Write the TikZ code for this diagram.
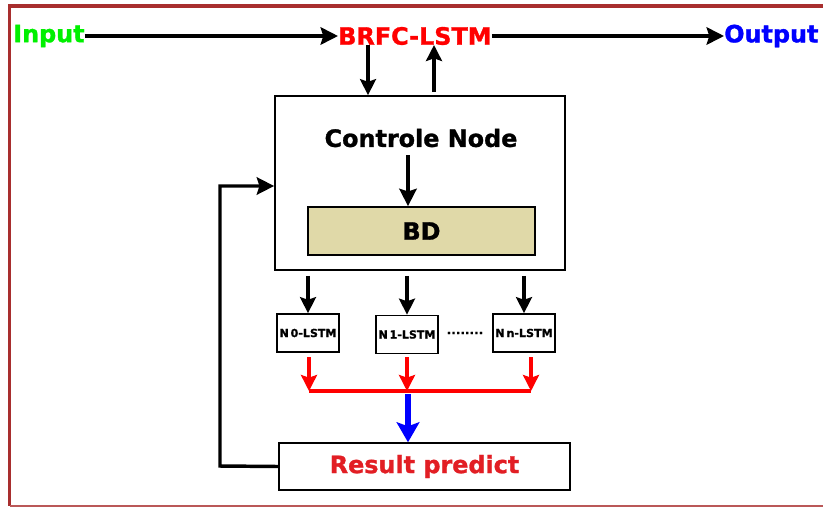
\documentclass[tikz,border=0pt]{standalone}
\usepackage{fontspec}
\setmainfont{DejaVu Sans}[BoldFeatures={FakeBold=1.2}]
\usetikzlibrary{arrows.meta}
\definecolor{frame}{rgb}{0.66,0.18,0.18}
\definecolor{bdfill}{RGB}{224,217,168}
\definecolor{resred}{RGB}{226,30,36}
\definecolor{ingreen}{RGB}{0,240,0}
\tikzset{
  lbl/.style={font=\bfseries\fontsize{17.9}{21}\selectfont, inner sep=0pt},
  box/.style={draw=black, line width=1.3pt, fill=white, inner sep=0pt},
  nbox/.style={draw=black, line width=1.3pt, fill=white, inner sep=0pt, minimum width=46.5pt, minimum height=28.5pt, font=\bfseries\fontsize{8.3}{9}\selectfont},
  arr/.style={line width=2.6pt, -{Stealth[length=13pt,width=13pt,inset=2pt]}},
  sarr/.style={line width=2.4pt, -{Stealth[length=12pt,width=12pt,inset=2pt]}},
}
\begin{document}
\begin{tikzpicture}[x=0.75pt,y=-0.75pt]
\useasboundingbox (0,0) rectangle (823,507);
\fill[white] (0,0) rectangle (823,507);
% frame
\draw[frame, line width=2.4pt] (830,6) -- (9.5,6) -- (9.5,506);
\draw[frame!80, line width=1.2pt] (9.5,506) -- (830,506);

% top labels
\node[lbl, text=ingreen, anchor=west] (in) at (13,36) {Input};
\node[lbl, text=red, anchor=west] (brfc) at (338,36) {BRFC-LSTM};
\node[lbl, text=blue, anchor=west] (out) at (724,36) {Output};

\draw[arr] (in.east) -- (brfc.west);
\draw[arr] (brfc.east) -- (out.west);

% control box
\node[box, minimum width=217.5pt, minimum height=130.5pt] (ctrl) at (420,183) {};
\node[lbl] (cn) at (421,138) {Controle Node};
\node[draw=black, line width=1.3pt, fill=bdfill, minimum width=170pt, minimum height=36pt, inner sep=0pt, font=\bfseries\fontsize{17.9}{21}\selectfont] (bd) at (421.5,231) {BD};
\coordinate (cs) at (408,155);
\draw[arr] (cs) -- (cs |- bd.north);

\coordinate (d1) at (368,45);
\coordinate (u1) at (434,45);
\draw[sarr] (d1) -- (d1 |- ctrl.north);
\draw[sarr] (u1 |- ctrl.north) ++(0,-3) -- (u1);

% N boxes
\node[nbox] (n0) at (308,333) {N\,0-LSTM};
\node[nbox] (n1) at (407,334.5) {N\,1-LSTM};
\node[nbox] (nn) at (524,333) {N\,n-LSTM};
\node[font=\bfseries\fontsize{9}{10}\selectfont, inner sep=0pt] (dots) at (465,333) {........};

\draw[sarr] (ctrl.south -| n0) ++(0,5) -- (n0.north);
\draw[sarr] (ctrl.south -| n1) ++(0,5) -- (n1.north);
\draw[sarr] (ctrl.south -| nn) ++(0,5) -- (nn.north);

% red merging
\coordinate (r0) at (309,391);
\coordinate (r1) at (407,391);
\coordinate (rn) at (531,391);
\draw[red, line width=2.4pt] (r0) -- (rn);
\draw[red, sarr] (309,357) -- (r0);
\draw[red, sarr] (407,357) -- (r1);
\draw[red, sarr] (531,357) -- (rn);

% result
\node[box, minimum width=218pt, minimum height=35pt, text=resred, font=\bfseries\fontsize{17.9}{21}\selectfont] (res) at (424.5,466.5) {Result predict};
\coordinate (bl) at (408,394);
\draw[blue, line width=4.2pt, -{Stealth[length=15pt,width=17pt,inset=3pt]}] (bl) -- (bl |- res.north);

% feedback
\coordinate (fb1) at (220,466);
\coordinate (fb2) at (220,186);
\draw[line width=2.6pt, -{Stealth[length=13pt,width=13pt,inset=2pt]}] (res.west) -- (fb1) -- (fb2) -- (ctrl.west |- fb2);
\end{tikzpicture}
\end{document}
